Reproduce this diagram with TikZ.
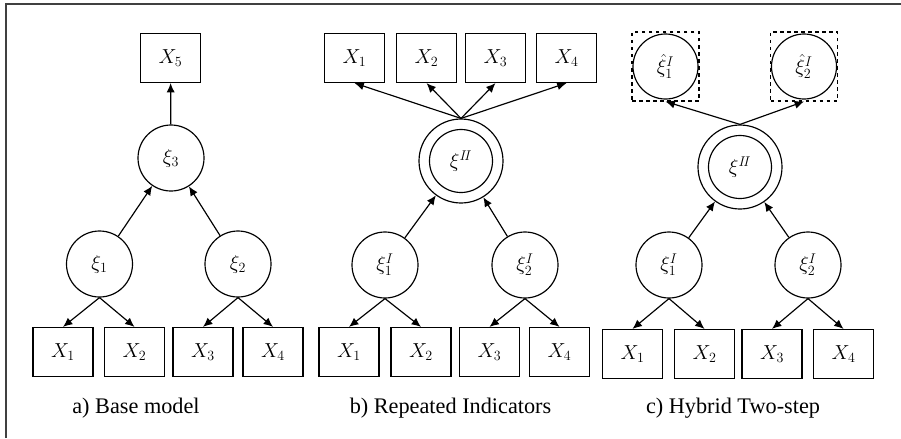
\documentclass[tikz,border=0pt]{standalone}
\usepackage{fontspec}
\setmainfont{Liberation Serif}
\usepackage{tikz}
\usetikzlibrary{arrows.meta}

\begin{document}
\begin{tikzpicture}[
    x=0.03cm, y=-0.03cm,
    framebox/.style={draw=black!75, line width=1.1pt},
    indicator/.style={draw, line width=1pt, minimum width=1.8cm, minimum height=1.47cm, inner sep=0pt, font=\fontsize{17.28}{20}\selectfont},
    latent/.style={draw, circle, line width=1pt, minimum size=1.98cm, inner sep=0pt, font=\fontsize{17.28}{20}\selectfont},
    secondorder/.style={draw, circle, line width=1pt, minimum size=2.52cm, inner sep=0pt},
    innerring/.style={draw, circle, line width=1pt, minimum size=1.89cm, inner sep=0pt, font=\fontsize{17.28}{20}\selectfont},
    scorebox/.style={draw, dashed, line width=0.9pt, minimum width=2.01cm, minimum height=2.07cm, inner sep=0pt},
    loading/.style={-{Latex[length=8pt,width=7pt]}, line width=1pt},
    captiontext/.style={font=\fontsize{19}{22}\selectfont}
]
\useasboundingbox (0,0) rectangle (901,438);
\draw[framebox] (6,438) -- (6,4) -- (901,4);

% a) base model
\node[indicator] (aX5) at (170.5,58) {$X_5$};
\node[latent] (axi3) at (171,158) {$\xi_3$};
\node[latent] (axi1) at (99.5,264) {$\xi_1$};
\node[latent] (axi2) at (238,264) {$\xi_2$};
\node[indicator] (aX1) at (63,352) {$X_1$};
\node[indicator] (aX2) at (134.5,352) {$X_2$};
\node[indicator] (aX3) at (203,352) {$X_3$};
\node[indicator] (aX4) at (273,352) {$X_4$};
\draw[loading] (axi3) -- (aX5);
\draw[loading] (axi1) -- (axi3);
\draw[loading] (axi2) -- (axi3);
\draw[loading] (axi1.south) -- (aX1.north);
\draw[loading] (axi1.south) -- (aX2.north);
\draw[loading] (axi2.south) -- (aX3.north);
\draw[loading] (axi2.south) -- (aX4.north);
\node[captiontext] (acap) at (136,408) {a) Base model};

% b) repeated indicators
\node[indicator] (bX1t) at (354.5,58) {$X_1$};
\node[indicator] (bX2t) at (426.5,58) {$X_2$};
\node[indicator] (bX3t) at (495.5,58) {$X_3$};
\node[indicator] (bX4t) at (566.5,58) {$X_4$};
\node[secondorder] (bxiII) at (461,161) {};
\node[innerring] (bxiIIin) at (bxiII) {$\xi^{I\!I}$};
\node[latent] (bxi1) at (385,265) {$\xi^{I}_{1}$};
\node[latent] (bxi2) at (525,265) {$\xi^{I}_{2}$};
\node[indicator] (bX1) at (349,352) {$X_1$};
\node[indicator] (bX2) at (421,352) {$X_2$};
\node[indicator] (bX3) at (489.5,352) {$X_3$};
\node[indicator] (bX4) at (559.5,352) {$X_4$};
\draw[loading] (bxiII.north) -- (bX1t.south);
\draw[loading] (bxiII.north) -- (bX2t.south);
\draw[loading] (bxiII.north) -- (bX3t.south);
\draw[loading] (bxiII.north) -- (bX4t.south);
\draw[loading] (bxi1) -- (bxiII);
\draw[loading] (bxi2) -- (bxiII);
\draw[loading] (bxi1.south) -- (bX1.north);
\draw[loading] (bxi1.south) -- (bX2.north);
\draw[loading] (bxi2.south) -- (bX3.north);
\draw[loading] (bxi2.south) -- (bX4.north);
\node[captiontext] (bcap) at (450.5,408) {b) Repeated Indicators};

% c) hybrid two-step
\node[scorebox] (chat1) at (665.5,66.5) {};
\node[latent, minimum size=1.95cm] (chatxi1) at (chat1) {$\hat{\xi}^{I}_{1}$};
\node[scorebox] (chat2) at (804,66.5) {};
\node[latent, minimum size=1.95cm] (chatxi2) at (chat2) {$\hat{\xi}^{I}_{2}$};
\node[secondorder] (cxiII) at (740,167) {};
\node[innerring] (cxiIIin) at (cxiII) {$\xi^{I\!I}$};
\node[latent] (cxi1) at (669,265) {$\xi^{I}_{1}$};
\node[latent] (cxi2) at (808,265) {$\xi^{I}_{2}$};
\node[indicator] (cX1) at (632.5,354) {$X_1$};
\node[indicator] (cX2) at (704.5,354) {$X_2$};
\node[indicator] (cX3) at (772,354) {$X_3$};
\node[indicator] (cX4) at (843.5,354) {$X_4$};
\draw[loading] (cxiII.north) -- (chat1.south);
\draw[loading] (cxiII.north) -- (chat2.south);
\draw[loading] (cxi1) -- (cxiII);
\draw[loading] (cxi2) -- (cxiII);
\draw[loading] (cxi1.south) -- (cX1.north);
\draw[loading] (cxi1.south) -- (cX2.north);
\draw[loading] (cxi2.south) -- (cX3.north);
\draw[loading] (cxi2.south) -- (cX4.north);
\node[captiontext] (ccap) at (733,408) {c) Hybrid Two-step};
\end{tikzpicture}
\end{document}
